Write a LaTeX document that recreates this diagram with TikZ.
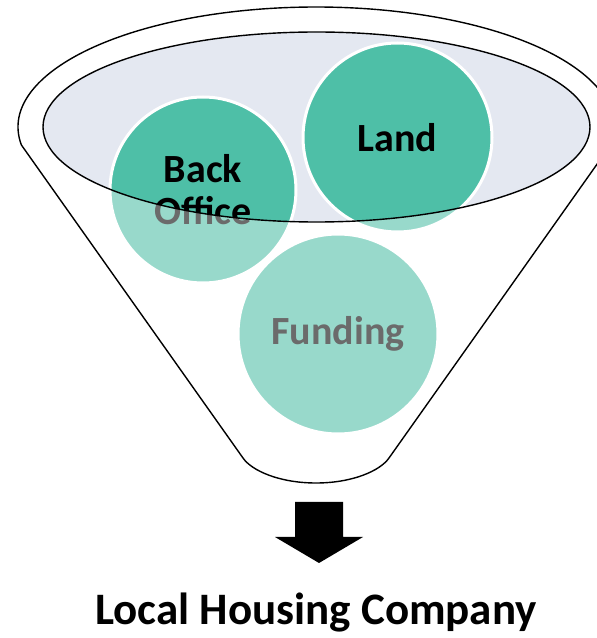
\documentclass[tikz,border=0pt]{standalone}
\usepackage{fontspec}
\setmainfont{Carlito}
\definecolor{teal1}{RGB}{78,191,167}
\definecolor{rim}{RGB}{228,232,241}
\tikzset{
  ball/.style={circle, fill=teal1, draw=white, line width=3pt, inner sep=0pt, align=center,
               font=\bfseries\fontsize{40}{44}\selectfont, text=black},
  outline/.style={draw=black, line width=1.4pt},
}
\begin{document}
\begin{tikzpicture}[x=1pt,y=1pt]
\useasboundingbox (0,0) rectangle (597,638);
\clip (0,0) rectangle (597,638);
% funnel body (white)
\fill[white] (21.4,493) arc[start angle=188.63, end angle=-8.63, x radius=298pt, y radius=120pt]
  -- (389,180) .. controls (380,167) and (352,155) .. (316,155)
  .. controls (280,155) and (252,167) .. (243,180) -- cycle;
% rim fill
\fill[rim] (316.5,511) ellipse[x radius=273.5pt, y radius=95pt];
% balls
\node[ball, minimum size=186pt] (back) at (203,448) {Back\\[-2pt]Office};
\node[ball, minimum size=189pt] (land) at (397.5,500.5) {Land};
\node[ball, minimum size=200pt] (fund) at (338,304) {Funding};
% translucent front of the funnel
\fill[white, fill opacity=0.42, even odd rule]
  (21.4,493) arc[start angle=188.63, end angle=-8.63, x radius=298pt, y radius=120pt]
  -- (389,180) .. controls (380,167) and (352,155) .. (316,155)
  .. controls (280,155) and (252,167) .. (243,180) -- cycle
  (316.5,511) ellipse[x radius=273.5pt, y radius=95pt];
% outlines
\draw[outline, line join=round] (21.4,493) arc[start angle=188.63, end angle=-8.63, x radius=298pt, y radius=120pt]
  -- (389,180) .. controls (380,167) and (352,155) .. (316,155)
  .. controls (280,155) and (252,167) .. (243,180) -- cycle;
\draw[outline] (316.5,511) ellipse[x radius=273.5pt, y radius=95pt];
% block arrow
\fill[black] (295,136) -- (343,136) -- (343,101) -- (363,101) -- (319,75) -- (275,101) -- (295,101) -- cycle;
% label
\node[anchor=base, font=\bfseries\fontsize{45}{50}\selectfont, inner sep=0pt] (lhc) at (316,13) {Local Housing Company};
\end{tikzpicture}
\end{document}
